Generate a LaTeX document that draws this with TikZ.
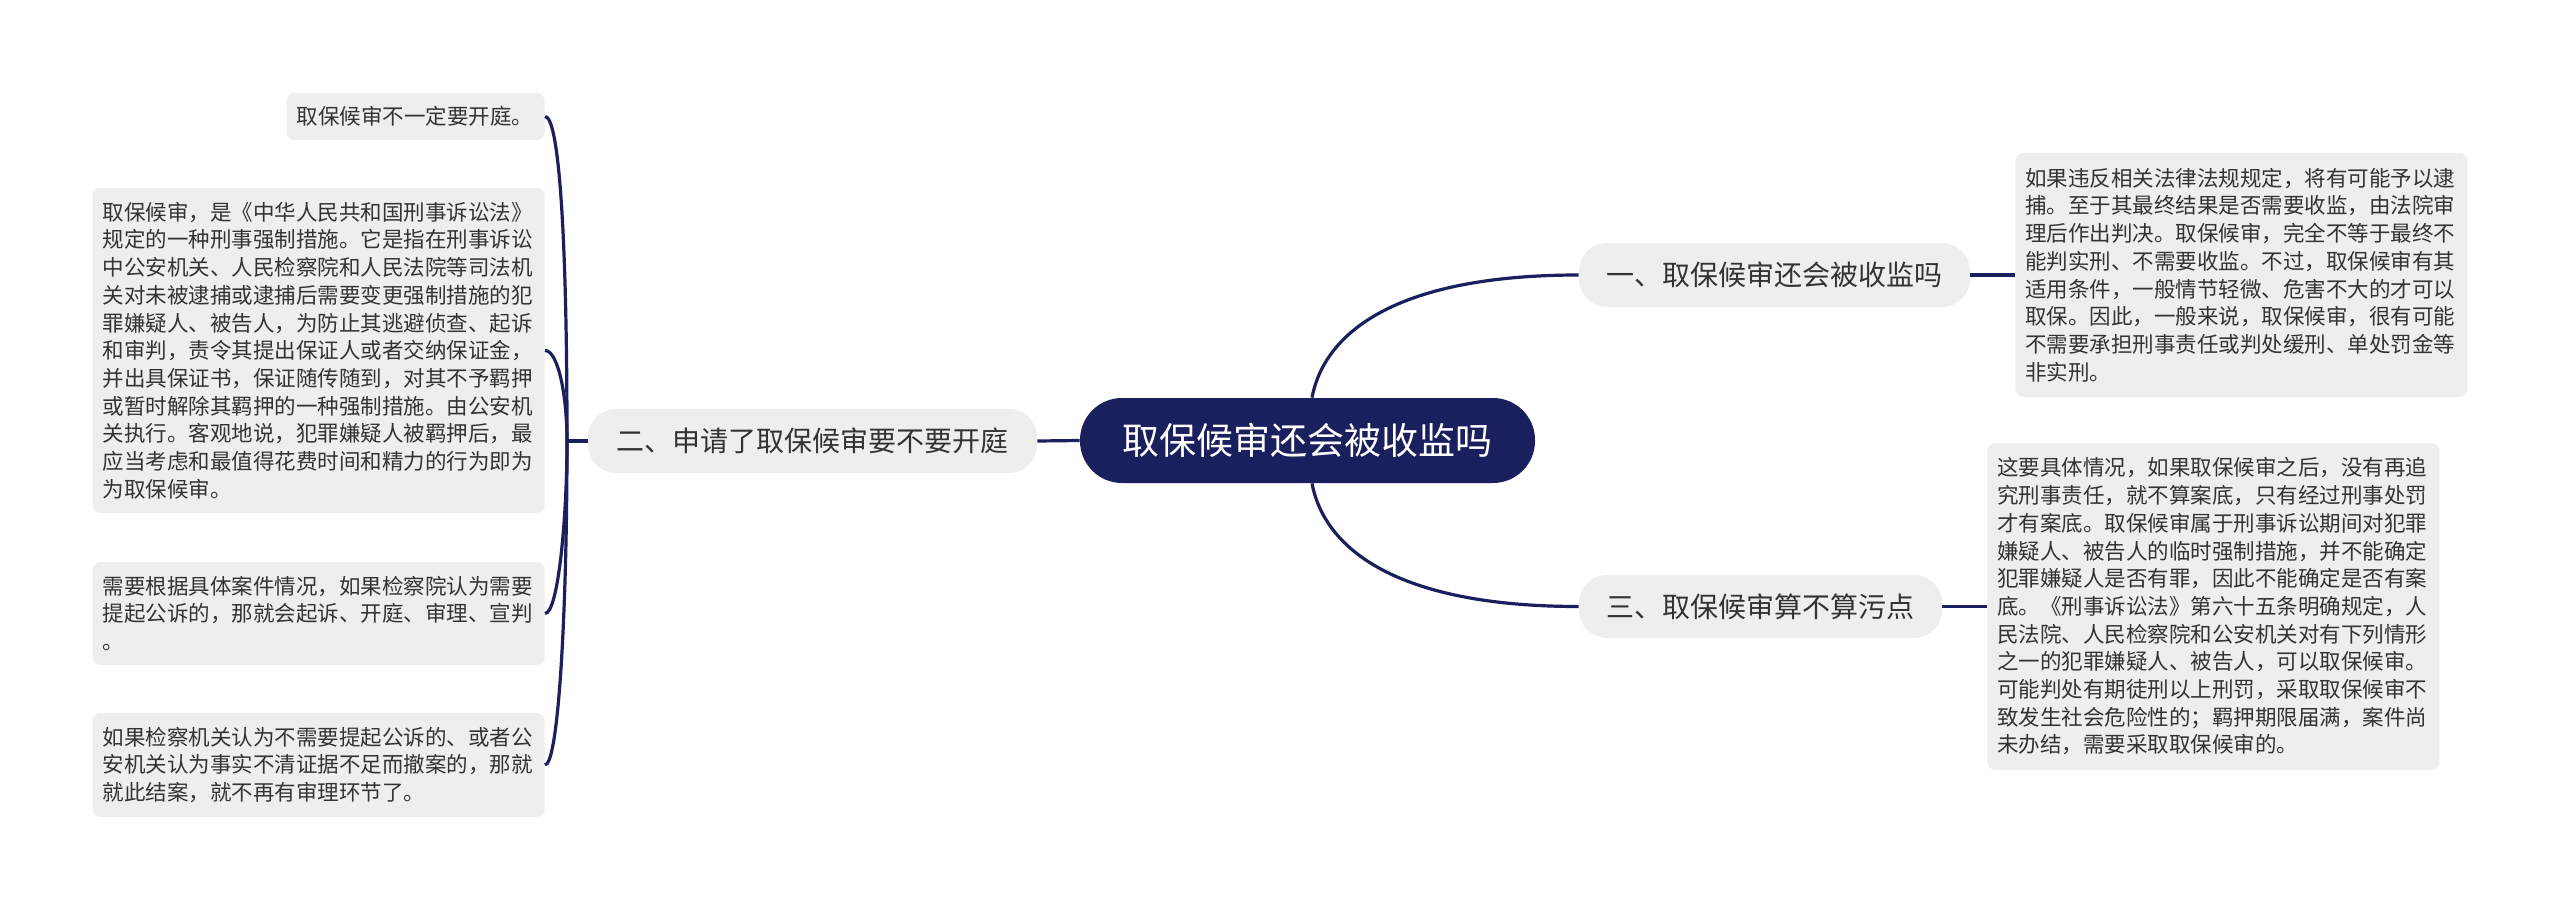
\documentclass[tikz,border=0pt]{standalone}
\usepackage{fontspec}
\setmainfont{Noto Sans CJK SC}
\definecolor{navy}{HTML}{1A205E}
\definecolor{leafgray}{HTML}{EEEEEE}
\definecolor{txt}{HTML}{333333}
\begin{document}
\begin{tikzpicture}[x=0.5pt,y=-0.5pt,
 conn/.style={draw=navy,line width=1.6pt},
 leaf/.style={fill=leafgray,rounded corners=4pt,inner xsep=5pt,inner ysep=0pt,text width=216pt,align=left,text=txt,font=\fontsize{10.75}{13.85}\selectfont,minimum width=226pt},
 branch/.style={fill=leafgray,rounded corners=14pt,inner sep=0pt,text=txt,font=\fontsize{14}{16}\selectfont,minimum height=32pt},
 root/.style={fill=navy,rounded corners=21pt,inner sep=0pt,text=white,font=\fontsize{18.5}{22}\selectfont}]
\fill[white] (0,0) rectangle (2560,910);
\useasboundingbox (0,0) rectangle (2560,910);

% root
\node[root,minimum width=227.5pt,minimum height=42.5pt] (c) at (1307.5,440.5) {取保候审还会被收监吗};

% branches
\node[branch,minimum width=195.5pt] (b1) at (1774.5,275) {一、取保候审还会被收监吗};
\node[branch,minimum width=224.5pt] (b2) at (812.5,441) {二、申请了取保候审要不要开庭};
\node[branch,minimum width=181.5pt,minimum height=31.5pt] (b3) at (1760.5,606.5) {三、取保候审算不算污点};

% left leaves
\node[leaf,anchor=east,text width=119pt,minimum width=129pt,minimum height=23.5pt] (l1) at (545,116.5) {取保候审不一定要开庭。};
\node[leaf,anchor=east,minimum height=162.5pt] (l2) at (545,350.5) {取保候审，是《中华人民共和国刑事诉讼法》\\规定的一种刑事强制措施。它是指在刑事诉讼\\中公安机关、人民检察院和人民法院等司法机\\关对未被逮捕或逮捕后需要变更强制措施的犯\\罪嫌疑人、被告人，为防止其逃避侦查、起诉\\和审判，责令其提出保证人或者交纳保证金，\\并出具保证书，保证随传随到，对其不予羁押\\或暂时解除其羁押的一种强制措施。由公安机\\关执行。客观地说，犯罪嫌疑人被羁押后，最\\应当考虑和最值得花费时间和精力的行为即为\\为取保候审。};
\node[leaf,anchor=east,minimum height=51.5pt] (l3) at (545,613.5) {需要根据具体案件情况，如果检察院认为需要\\提起公诉的，那就会起诉、开庭、审理、宣判\\。};
\node[leaf,anchor=east,minimum height=52pt] (l4) at (545,765) {如果检察机关认为不需要提起公诉的、或者公\\安机关认为事实不清证据不足而撤案的，那就\\就此结案，就不再有审理环节了。};

% right leaves
\node[leaf,anchor=west,minimum height=122pt] (r1) at (2015,275) {如果违反相关法律法规规定，将有可能予以逮\\捕。至于其最终结果是否需要收监，由法院审\\理后作出判决。取保候审，完全不等于最终不\\能判实刑、不需要收监。不过，取保候审有其\\适用条件，一般情节轻微、危害不大的才可以\\取保。因此，一般来说，取保候审，很有可能\\不需要承担刑事责任或判处缓刑、单处罚金等\\非实刑。};
\node[leaf,anchor=west,minimum height=163.5pt] (r2) at (1987,606.5) {这要具体情况，如果取保候审之后，没有再追\\究刑事责任，就不算案底，只有经过刑事处罚\\才有案底。取保候审属于刑事诉讼期间对犯罪\\嫌疑人、被告人的临时强制措施，并不能确定\\犯罪嫌疑人是否有罪，因此不能确定是否有案\\底。《刑事诉讼法》第六十五条明确规定，人\\民法院、人民检察院和公安机关对有下列情形\\之一的犯罪嫌疑人、被告人，可以取保候审。\\可能判处有期徒刑以上刑罚，采取取保候审不\\致发生社会危险性的；羁押期限届满，案件尚\\未办结，需要采取取保候审的。};

% connectors: root to branches
\draw[conn] ([xshift=2.25pt]c.north) .. controls (1325,330) and (1400,275) .. (b1.west);
\draw[conn] ([xshift=2.25pt]c.south) .. controls (1325,551) and (1400,606.5) .. (b3.west);
\draw[conn] (c.west) -- (b2.east);

% branches to right leaves
\draw[conn] (b1.east) -- (r1.west);
\draw[conn] (b3.east) -- (r2.west);

% left spine
\coordinate (j) at (567,441);
\draw[conn] (b2.west) -- (j);
\draw[conn] (j) .. controls (567,220) and (558,116.5) .. (l1.east);
\draw[conn] (j) .. controls (567,395) and (558,350.5) .. (l2.east);
\draw[conn] (j) .. controls (567,520) and (558,613.5) .. (l3.east);
\draw[conn] (j) .. controls (567,620) and (558,765) .. (l4.east);
\end{tikzpicture}
\end{document}
